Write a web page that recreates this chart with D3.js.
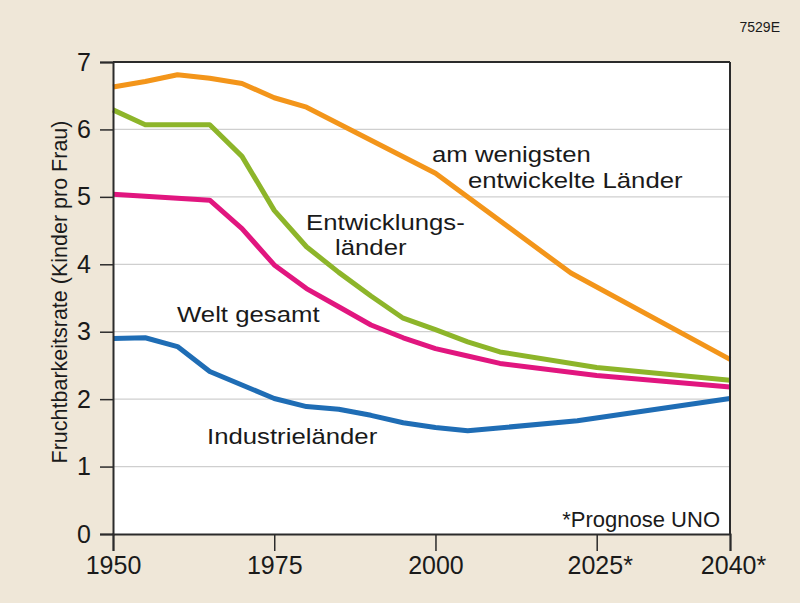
<!DOCTYPE html>
<html>
<head>
<meta charset="utf-8">
<script src="https://cdn.jsdelivr.net/npm/d3@7"></script>
<style>
  html, body { margin: 0; padding: 0; background: #efe7d8; }
  svg { display: block; }
  text { font-family: "Liberation Sans", Arial, Helvetica, sans-serif; fill: #1a1a1a; }
</style>
</head>
<body>
<svg id="chart" width="800" height="603"></svg>
<script>
// ---- data ----
const xTickYears = [1950, 1975, 2000, 2025, 2040];
const xTickLabels = ["1950", "1975", "2000", "2025*", "2040*"];
const yTicks = [0, 1, 2, 3, 4, 5, 6, 7];

const leastYears  = [1950, 1955, 1960, 1965, 1970, 1975, 1980, 1990, 2000, 2021, 2040];
const leastValues = [6.63, 6.71, 6.81, 6.76, 6.68, 6.47, 6.33, 5.84, 5.35, 3.87, 2.59];

const devYears  = [1950, 1955, 1960, 1965, 1970, 1975, 1980, 1985, 1990, 1995, 2000, 2005, 2010, 2025, 2040];
const devValues = [6.29, 6.07, 6.07, 6.07, 5.60, 4.80, 4.26, 3.88, 3.53, 3.20, 3.03, 2.85, 2.70, 2.47, 2.28];

const worldYears  = [1950, 1965, 1970, 1975, 1980, 1985, 1990, 1995, 2000, 2005, 2010, 2025, 2040];
const worldValues = [5.04, 4.95, 4.53, 3.99, 3.64, 3.37, 3.10, 2.91, 2.75, 2.64, 2.53, 2.35, 2.18];

const indYears  = [1950, 1955, 1960, 1965, 1970, 1975, 1980, 1985, 1990, 1995, 2000, 2005, 2022, 2040];
const indValues = [2.90, 2.91, 2.78, 2.41, 2.21, 2.01, 1.89, 1.85, 1.76, 1.65, 1.58, 1.53, 1.68, 2.01];

const seriesNames = ["am wenigsten entwickelte Länder", "Entwicklungsländer", "Welt gesamt", "Industrieländer"];

(function () {
// ---- layout ----
const svg = d3.select("#chart");
const pL = 113, pR = 730, pT = 62, pB = 534;

// the time axis is compressed up to 2025 and stretched for the 2025-2040 forecast
const x = d3.scaleLinear().domain([1950, 2025, 2040]).range([pL, 596.7, pR]);
const y = d3.scaleLinear().domain([0, 7]).range([pB, pT]);

// plot background
svg.append("rect").attr("x", pL).attr("y", pT)
  .attr("width", pR - pL).attr("height", pB - pT).attr("fill", "#ffffff");

// gridlines
svg.append("g").selectAll("line").data(yTicks.filter(d => d > 0 && d < 7)).join("line")
  .attr("x1", pL).attr("x2", pR)
  .attr("y1", d => y(d)).attr("y2", d => y(d))
  .attr("stroke", "#cfcfcf").attr("stroke-width", 1.3);

// lines
const series = [
  { name: seriesNames[0], years: leastYears, values: leastValues, color: "#f3951a" },
  { name: seriesNames[1], years: devYears,   values: devValues,   color: "#8db52a" },
  { name: seriesNames[2], years: worldYears, values: worldValues, color: "#e1167f" },
  { name: seriesNames[3], years: indYears,   values: indValues,   color: "#1f6db5" }
];
const line = d3.line().x(d => x(d[0])).y(d => y(d[1]));
svg.append("g").selectAll("path").data(series).join("path")
  .attr("d", s => line(s.years.map((yr, i) => [yr, s.values[i]])))
  .attr("fill", "none")
  .attr("stroke", s => s.color)
  .attr("stroke-width", 5)
  .attr("stroke-linejoin", "round")
  .attr("stroke-linecap", "butt");

// frame: top and right borders
svg.append("line").attr("x1", pL).attr("x2", pR).attr("y1", pT).attr("y2", pT)
  .attr("stroke", "#2b2b2b").attr("stroke-width", 2);
svg.append("line").attr("x1", pR).attr("x2", pR).attr("y1", pT).attr("y2", pB)
  .attr("stroke", "#2b2b2b").attr("stroke-width", 2);

// y axis
const yAxis = d3.axisLeft(y).tickValues(yTicks).tickSize(13).tickPadding(9).tickFormat(d3.format("d"));
const gy = svg.append("g").attr("transform", `translate(${pL},0)`).call(yAxis);
gy.select(".domain").attr("stroke", "#2b2b2b").attr("stroke-width", 2);
gy.selectAll(".tick line").attr("stroke", "#2b2b2b").attr("stroke-width", 1.5);
gy.selectAll(".tick text").attr("font-size", 25).attr("fill", "#1a1a1a")
  .style("font-family", "'Liberation Sans', Arial, sans-serif");

// x axis
const xAxis = d3.axisBottom(x).tickValues(xTickYears).tickSize(17).tickPadding(5)
  .tickFormat((d, i) => xTickLabels[i]);
const gx = svg.append("g").attr("transform", `translate(0,${pB})`).call(xAxis);
gx.select(".domain").attr("stroke", "#2b2b2b").attr("stroke-width", 2);
gx.selectAll(".tick line").attr("stroke", "#2b2b2b").attr("stroke-width", 1.5);
gx.selectAll(".tick text").attr("font-size", 25).attr("fill", "#1a1a1a")
  .style("font-family", "'Liberation Sans', Arial, sans-serif");
gx.selectAll(".tick text").filter((d, i) => xTickLabels[i].endsWith("*"))
  .attr("dx", "0.12em");

// y-axis title
svg.append("text")
  .attr("transform", "translate(67,292) rotate(-90)")
  .attr("text-anchor", "middle")
  .attr("font-size", 21.5)
  .text("Fruchtbarkeitsrate (Kinder pro Frau)");

// code
svg.append("text").attr("x", 780).attr("y", 32).attr("text-anchor", "end")
  .attr("font-size", 14).text("7529E");

// series labels
const labels = [
  { t: "am wenigsten", x: 432, y: 162 },
  { t: "entwickelte Länder", x: 468, y: 188 },
  { t: "Entwicklungs-", x: 306, y: 230 },
  { t: "länder", x: 335, y: 255 },
  { t: "Welt gesamt", x: 177, y: 322 },
  { t: "Industrieländer", x: 207, y: 444 }
];
svg.append("g").selectAll("text").data(labels).join("text")
  .attr("transform", d => `translate(${d.x},${d.y}) scale(1.17,1)`)
  .attr("font-size", 22)
  .text(d => d.t);

// note
svg.append("text").attr("x", 720).attr("y", 527).attr("text-anchor", "end")
  .attr("font-size", 22).text("*Prognose UNO");
})();
</script>
</body>
</html>
